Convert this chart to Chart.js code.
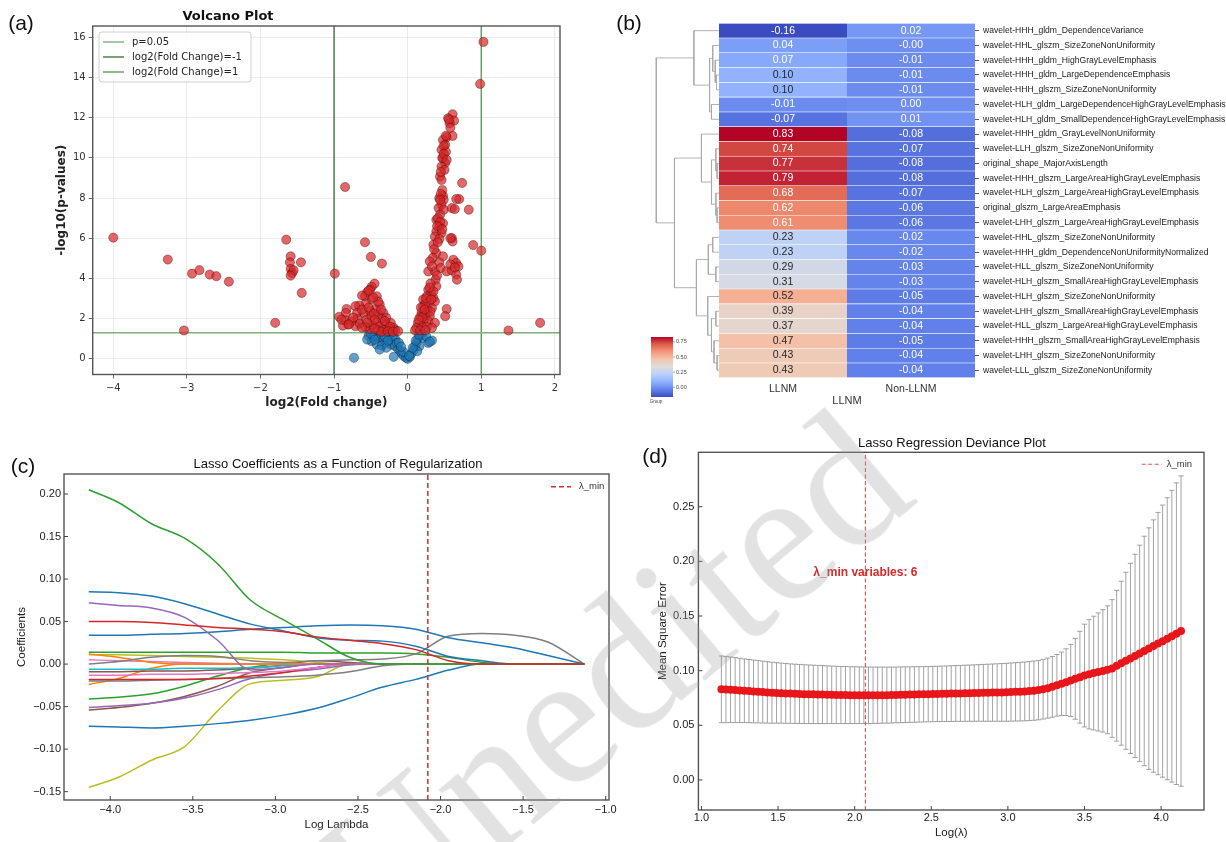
<!DOCTYPE html>
<html>
<head>
<meta charset="utf-8">
<script src="https://cdn.jsdelivr.net/npm/chart.js@4.4.1/dist/chart.umd.min.js"></script>
<style>
  html, body { margin: 0; padding: 0; background: #fff; }
  #page { position: relative; width: 1226px; height: 842px; overflow: hidden; background: #fff; }
  .box { position: absolute; }
  .lbl { position: absolute; transform: translate(-50%, -50%); white-space: nowrap; color: #111; }
  .panel { font-family: "Liberation Sans", Arial, sans-serif; font-size: 21px; }
  .ttl { font-family: "Liberation Sans", Arial, sans-serif; font-size: 13px; color: #111; }
  #mark { position: absolute; left: 612px; top: 675px; transform: translate(-50%, -50%) rotate(-40deg);
          font-family: "Liberation Serif", "DejaVu Serif", serif; font-size: 190px; color: rgba(160,160,160,0.3);
          white-space: nowrap; pointer-events: none; line-height: 1; }
</style>
</head>
<body>
<div id="page">
  <div class="box" style="left:0;top:0"><canvas id="volcano" width="600" height="420"></canvas></div>
  <div class="box" style="left:630px;top:0"><canvas id="dendro" width="89" height="420"></canvas></div>
  <div class="box" style="left:719px;top:0"><canvas id="heat" width="507" height="420"></canvas></div>
  <div class="box" style="left:0;top:420px"><canvas id="lassoPath" width="620" height="422"></canvas></div>
  <div class="box" style="left:620px;top:420px"><canvas id="deviance" width="606" height="422"></canvas></div>

  <div class="lbl panel" style="left:21px;top:23px">(a)</div>
  <div class="lbl panel" style="left:629px;top:23px">(b)</div>
  <div class="lbl panel" style="left:23px;top:466px">(c)</div>
  <div class="lbl panel" style="left:655px;top:456px">(d)</div>

  <div class="lbl" style="left:228px;top:15px;font:bold 13px 'DejaVu Sans', sans-serif">Volcano Plot</div>
  <div class="lbl ttl" style="left:338px;top:463px">Lasso Coefficients as a Function of Regularization</div>
  <div class="lbl ttl" style="left:952px;top:442px">Lasso Regression Deviance Plot</div>

  <div id="mark">Unedited</div>
</div>

<script>
// ---------- (a) volcano: [log2 fold change, -log10 p] ----------
const volcanoPoints = [
  [-4.00,6.03],[-3.26,4.94],[-2.93,4.24],[-2.83,4.41],[-2.69,4.19],[-2.60,4.11],[-2.43,3.84],[-3.04,1.41],
  [-1.80,1.79],[-1.65,5.93],[-1.59,5.10],[-1.60,4.80],[-1.59,4.47],[-1.57,4.27],[-1.55,4.41],[-1.59,4.14],
  [-1.45,4.80],[-1.44,3.28],[-0.99,4.24],[-0.85,8.55],[-0.58,5.80],[-0.50,5.07],[-0.35,4.74],
  [1.03,15.77],[0.985,13.68],[1.00,5.38],[1.37,1.41],[1.80,1.79],[0.74,8.75],[0.70,7.95],[0.66,7.95],
  [0.83,7.42],[0.89,5.66],
  [-0.45,3.74],[-0.49,3.58],[-0.51,3.44],[-0.55,3.31],[-0.58,3.11],[-0.62,3.15],[-0.42,3.11],[-0.49,2.95],
  [-0.57,2.75],[-0.66,2.65],[-0.71,2.62],[-0.38,2.70],[-0.44,2.48],[-0.51,2.37],[-0.60,2.28],[-0.69,2.28],
  [-0.83,2.48],[-0.84,2.28],[-0.93,2.09],[-0.85,1.92],[-0.76,1.87],[-0.68,1.99],[-0.81,1.71],[-0.71,1.62],
  [-0.65,1.75],[-0.56,1.95],[-0.49,2.12],[-0.40,2.20],[-0.33,2.28],[-0.35,1.99],[-0.29,2.04],[-0.42,1.82],
  [-0.48,1.66],[-0.38,1.62],[-0.29,1.71],[-0.23,1.79],[-0.19,1.54],[-0.26,1.49],[-0.33,1.46],[-0.52,1.49],
  [-0.40,1.42],[-0.17,1.42],[-0.58,1.59],[-0.62,2.45],[-0.53,2.55],[-0.46,2.25],[-0.36,2.45],[-0.31,1.88],
  [-0.24,1.60],[-0.45,1.95],[-0.55,1.80],[-0.62,1.55],[-0.36,1.35],[-0.27,1.37],[-0.45,1.50],[-0.20,1.35],
  [-0.13,1.38],[-0.88,1.65],[-0.74,2.05],[-0.40,2.85],[-0.47,3.05],[-0.53,3.40],[-0.90,1.95],[-0.80,1.71],
  [0.61,12.17],[0.55,11.97],[0.63,11.85],[0.57,11.72],[0.53,11.03],[0.61,11.09],[0.48,10.89],[0.51,10.65],
  [0.46,10.40],[0.52,10.30],[0.48,9.98],[0.51,9.74],[0.46,9.57],[0.50,9.40],[0.44,9.07],[0.46,8.90],
  [0.48,8.11],[0.43,8.00],[0.49,7.91],[0.46,7.67],[0.42,7.50],[0.49,7.42],[0.60,7.50],[0.44,7.17],
  [0.39,6.92],[0.48,6.75],[0.43,6.59],[0.39,6.34],[0.46,6.26],[0.37,6.09],[0.43,5.96],[0.60,6.01],
  [0.61,5.84],[0.35,5.68],[0.39,5.26],[0.34,5.02],[0.48,5.10],[0.43,4.80],[0.62,4.93],[0.66,4.77],
  [0.69,4.60],[0.30,4.85],[0.28,4.35],[0.37,4.35],[0.45,4.52],[0.53,4.35],[0.60,4.40],[0.66,4.19],
  [0.67,3.94],[0.38,3.94],[0.39,3.61],[0.28,3.44],[0.32,3.28],[0.26,3.11],[0.35,3.03],[0.21,2.95],
  [0.29,2.81],[0.37,2.86],[0.21,2.62],[0.27,2.45],[0.33,2.53],[0.19,2.32],[0.24,2.20],[0.30,2.12],
  [0.53,2.48],[0.51,2.12],[0.17,2.09],[0.22,1.92],[0.28,1.87],[0.37,1.79],[0.14,1.79],[0.19,1.62],
  [0.26,1.59],[0.12,1.54],[0.33,1.54],[0.10,1.42],[0.17,1.42],[0.24,1.42],
  [0.47,10.0],[0.49,10.6],[0.45,9.3],[0.47,8.4],[0.45,8.2],[0.44,7.9],[0.41,7.0],[0.44,6.8],[0.40,6.6],
  [0.47,6.45],[0.41,5.8],[0.36,5.45],[0.33,4.6],[0.40,4.15],[0.31,3.75],[0.35,3.35],[0.30,3.55],[0.24,2.75],
  [0.31,2.35],[0.25,3.0],[0.18,2.55],[0.23,2.45],[0.20,2.05],[0.15,1.95],[0.32,2.95],[0.64,7.45],[0.58,6.0],
  [0.58,4.7],[0.64,4.55],[0.56,11.9],[0.58,11.5],[0.52,11.1],[0.49,10.2],[0.53,9.9],
  [-0.53,1.16],[-0.47,1.09],[-0.49,0.88],[-0.40,1.04],[-0.42,0.71],[-0.33,0.96],[-0.35,0.66],[-0.29,0.79],
  [-0.24,0.96],[-0.22,0.71],[-0.17,0.99],[-0.17,0.63],[-0.13,0.50],[-0.10,0.38],[-0.08,0.26],[-0.05,0.13],
  [-0.02,0.05],[0.00,0.00],[-0.19,0.10],[-0.73,0.05],[-0.29,0.55],[-0.38,0.46],[-0.44,1.13],[-0.55,0.96],
  [-0.15,0.79],[0.03,0.10],[0.05,0.26],[0.08,0.43],[0.10,0.63],[0.12,0.79],[0.14,0.99],[0.17,1.16],
  [0.19,1.26],[0.21,1.04],[0.28,0.79],[0.33,0.91],[0.16,0.63],[0.25,1.13],[0.13,0.38],[-0.50,1.25],
  [-0.36,1.20],[-0.26,1.22],[-0.20,1.15],[-0.12,0.80],[-0.06,0.35],[0.02,0.15],[0.07,0.55],[0.11,0.90],
  [0.15,1.20],[-0.31,1.10],[-0.45,0.95],[-0.27,0.90],[-0.09,0.60],[0.30,0.85]
];
const pCut = 0.05;
const fcCuts = [-1, 1];
const volcanoXTicks = [-4, -3, -2, -1, 0, 1, 2];

// ---------- (b) heatmap ----------
const featureNames = [
  'wavelet-HHH_gldm_DependenceVariance',
  'wavelet-HHL_glszm_SizeZoneNonUniformity',
  'wavelet-HHH_gldm_HighGrayLevelEmphasis',
  'wavelet-HHH_gldm_LargeDependenceEmphasis',
  'wavelet-HHH_glszm_SizeZoneNonUniformity',
  'wavelet-HLH_gldm_LargeDependenceHighGrayLevelEmphasis',
  'wavelet-HLH_gldm_SmallDependenceHighGrayLevelEmphasis',
  'wavelet-HHH_gldm_GrayLevelNonUniformity',
  'wavelet-LLH_glszm_SizeZoneNonUniformity',
  'original_shape_MajorAxisLength',
  'wavelet-HHH_glszm_LargeAreaHighGrayLevelEmphasis',
  'wavelet-HLH_glszm_LargeAreaHighGrayLevelEmphasis',
  'original_glszm_LargeAreaEmphasis',
  'wavelet-LHH_glszm_LargeAreaHighGrayLevelEmphasis',
  'wavelet-HHL_glszm_SizeZoneNonUniformity',
  'wavelet-HHH_gldm_DependenceNonUniformityNormalized',
  'wavelet-HLL_glszm_SizeZoneNonUniformity',
  'wavelet-HLH_glszm_SmallAreaHighGrayLevelEmphasis',
  'wavelet-HLH_glszm_SizeZoneNonUniformity',
  'wavelet-LHH_glszm_SmallAreaHighGrayLevelEmphasis',
  'wavelet-HLL_glszm_LargeAreaHighGrayLevelEmphasis',
  'wavelet-HHH_glszm_SmallAreaHighGrayLevelEmphasis',
  'wavelet-LHH_glszm_SizeZoneNonUniformity',
  'wavelet-LLL_glszm_SizeZoneNonUniformity'
];
const groupNames = ['LLNM', 'Non-LLNM'];
const llnmValues = [-0.16, 0.04, 0.07, 0.10, 0.10, -0.01, -0.07, 0.83, 0.74, 0.77, 0.79, 0.68, 0.62, 0.61,
                    0.23, 0.23, 0.29, 0.31, 0.52, 0.39, 0.37, 0.47, 0.43, 0.43];
const nonLlnmValues = [0.02, -0, -0.01, -0.01, -0.01, 0.00, 0.01, -0.08, -0.07, -0.08, -0.08, -0.07, -0.06, -0.06,
                       -0.02, -0.02, -0.03, -0.03, -0.05, -0.04, -0.04, -0.05, -0.04, -0.04];
const colorLimits = [-0.16, 0.83];
const colorbarTicks = [0.00, 0.25, 0.50, 0.75];
// row clustering: [childA, childB, height]; ids >= 24 refer to earlier rows of this list
const dendroLinks = [
  [3, 4, 0.04], [2, 24, 0.06], [1, 25, 0.10], [5, 6, 0.12], [26, 27, 0.15], [0, 28, 0.40],
  [9, 10, 0.03], [8, 30, 0.05], [12, 13, 0.03], [11, 32, 0.05], [31, 33, 0.12], [7, 34, 0.28],
  [14, 15, 0.10], [16, 17, 0.05], [36, 37, 0.17], [19, 20, 0.05], [22, 23, 0.03], [21, 40, 0.08],
  [39, 41, 0.12], [18, 42, 0.18], [38, 43, 0.36], [35, 44, 0.71], [29, 45, 1.00]
];

// ---------- (c) lasso paths ----------
const logLambdaPath = [-4.13, -3.95, -3.75, -3.55, -3.35, -3.15, -2.95, -2.75, -2.55, -2.35, -2.15, -1.95, -1.75, -1.55, -1.35, -1.13];
const coefPaths = [
  [0.050, 0.050, 0.049, 0.046, 0.043, 0.041, 0.038, 0.032, 0.028, 0.024, 0.017, 0.004, 0, 0, 0, 0],
  [0.205, 0.190, 0.165, 0.148, 0.118, 0.075, 0.052, 0.030, 0.008, 0, 0, 0, 0, 0, 0, 0],
  [0.085, 0.084, 0.080, 0.071, 0.059, 0.047, 0.039, 0.031, 0.028, 0.027, 0.021, 0.009, 0.004, 0, 0, 0],
  [0.072, 0.069, 0.066, 0.055, 0.028, -0.007, -0.004, 0, 0, 0, 0, 0, 0, 0, 0, 0],
  [0.034, 0.034, 0.035, 0.036, 0.038, 0.041, 0.043, 0.045, 0.046, 0.045, 0.041, 0.031, 0.025, 0.019, 0.010, 0],
  [0.000, 0.003, 0.008, 0.010, 0.009, 0.004, 0.002, 0.004, 0.005, 0.006, 0.012, 0.033, 0.036, 0.034, 0.026, 0],
  [0.014, 0.014, 0.014, 0.014, 0.014, 0.014, 0.014, 0.013, 0.013, 0.013, 0.012, 0.008, 0.002, 0, 0, 0],
  [0.012, 0.008, 0.002, 0, 0, 0, 0, 0, 0, 0, 0, 0, 0, 0, 0, 0],
  [0.011, 0.011, 0.010, 0.009, 0.008, 0.007, 0.005, 0.002, 0, 0, 0, 0, 0, 0, 0, 0],
  [0.005, 0.004, 0.003, 0.002, 0.001, 0, 0, 0, 0, 0, 0, 0, 0, 0, 0, 0],
  [-0.006, -0.006, -0.006, -0.005, -0.005, -0.004, -0.002, 0, 0, 0, 0, 0, 0, 0, 0, 0],
  [-0.009, -0.009, -0.008, -0.008, -0.007, -0.005, -0.001, 0.004, 0.002, 0, 0, 0, 0, 0, 0, 0],
  [-0.013, -0.013, -0.012, -0.012, -0.011, -0.010, -0.008, -0.004, 0, 0, 0, 0, 0, 0, 0, 0],
  [-0.018, -0.018, -0.018, -0.018, -0.017, -0.014, -0.010, -0.004, 0, 0, 0, 0, 0, 0, 0, 0],
  [-0.020, -0.020, -0.019, -0.018, -0.017, -0.016, -0.015, -0.013, -0.009, -0.002, 0, 0, 0, 0, 0, 0],
  [-0.024, -0.017, -0.005, 0, 0, 0, 0, 0, 0, 0, 0, 0, 0, 0, 0, 0],
  [-0.041, -0.039, -0.035, -0.026, -0.014, -0.004, 0, 0, 0, 0, 0, 0, 0, 0, 0, 0],
  [-0.051, -0.049, -0.046, -0.040, -0.030, -0.017, -0.010, -0.006, -0.001, 0, 0, 0, 0, 0, 0, 0],
  [-0.054, -0.051, -0.046, -0.038, -0.026, -0.010, -0.004, 0, 0, 0, 0, 0, 0, 0, 0, 0],
  [-0.073, -0.074, -0.075, -0.073, -0.070, -0.066, -0.060, -0.052, -0.040, -0.027, -0.018, -0.007, 0, 0, 0, 0],
  [-0.145, -0.133, -0.113, -0.097, -0.055, -0.023, -0.019, -0.015, 0, 0, 0, 0, 0, 0, 0, 0]
];
const coefColors = ['#d62728', '#2ca02c', '#1f77b4', '#9467bd', '#1f77b4', '#7f7f7f', '#2ca02c', '#ff7f0e',
  '#bcbd22', '#e377c2', '#17becf', '#8c564b', '#e377c2', '#d62728', '#7f7f7f', '#ff7f0e', '#2ca02c',
  '#9467bd', '#8c564b', '#1f77b4', '#bcbd22'];
const lambdaMinPath = -2.077;

// ---------- (d) cross-validation deviance ----------
const logLambdaCv = [
  1.13, 1.16, 1.19, 1.22, 1.25, 1.28, 1.31, 1.34, 1.37, 1.40, 1.43, 1.46, 1.49, 1.52, 1.55, 1.58, 1.61, 1.64,
  1.67, 1.70, 1.73, 1.76, 1.79, 1.82, 1.85, 1.88, 1.91, 1.94, 1.97, 2.00, 2.03, 2.06, 2.09, 2.12, 2.15, 2.18,
  2.21, 2.24, 2.27, 2.30, 2.33, 2.36, 2.39, 2.42, 2.45, 2.48, 2.51, 2.54, 2.57, 2.60, 2.63, 2.66, 2.69, 2.72,
  2.75, 2.78, 2.81, 2.84, 2.87, 2.90, 2.93, 2.96, 2.99, 3.02, 3.05, 3.08, 3.11, 3.14, 3.17, 3.20, 3.23, 3.26,
  3.29, 3.32, 3.35, 3.38, 3.41, 3.44, 3.47, 3.50, 3.53, 3.56, 3.59, 3.62, 3.65, 3.68, 3.71, 3.74, 3.77, 3.80,
  3.83, 3.86, 3.89, 3.92, 3.95, 3.98, 4.01, 4.04, 4.07, 4.10, 4.13
];
const mseMean = [
  0.0829, 0.0827, 0.0825, 0.0822, 0.0819, 0.0816, 0.0813, 0.0810, 0.0807, 0.0804, 0.0801, 0.0798, 0.0796, 0.0794,
  0.0792, 0.0790, 0.0788, 0.0787, 0.0785, 0.0784, 0.0783, 0.0782, 0.0781, 0.0780, 0.0779, 0.0778, 0.0777, 0.0777,
  0.0776, 0.0776, 0.0775, 0.0775, 0.0775, 0.0775, 0.0775, 0.0776, 0.0776, 0.0777, 0.0778, 0.0779, 0.0780, 0.0781,
  0.0782, 0.0783, 0.0784, 0.0785, 0.0786, 0.0787, 0.0788, 0.0789, 0.0790, 0.0791, 0.0792, 0.0793, 0.0794, 0.0795,
  0.0796, 0.0797, 0.0798, 0.0799, 0.0800, 0.0801, 0.0802, 0.0804, 0.0806, 0.0808, 0.0810, 0.0813, 0.0817, 0.0822,
  0.0830, 0.0840, 0.0852, 0.0866, 0.0880, 0.0895, 0.0910, 0.0925, 0.0940, 0.0955, 0.0967, 0.0978, 0.0988, 0.0998,
  0.1008, 0.1020, 0.1045, 0.1068, 0.1090, 0.1112, 0.1135, 0.1158, 0.1180, 0.1202, 0.1225, 0.1248, 0.1270, 0.1292,
  0.1315, 0.1338, 0.1362
];
const mseErr = [
  0.0305, 0.0303, 0.0300, 0.0297, 0.0294, 0.0291, 0.0289, 0.0287, 0.0285, 0.0283, 0.0281, 0.0279, 0.0277, 0.0275,
  0.0274, 0.0272, 0.0271, 0.0270, 0.0269, 0.0268, 0.0267, 0.0266, 0.0265, 0.0264, 0.0263, 0.0262, 0.0261, 0.0261,
  0.0260, 0.0260, 0.0259, 0.0259, 0.0258, 0.0258, 0.0257, 0.0257, 0.0256, 0.0256, 0.0255, 0.0255, 0.0255, 0.0254,
  0.0254, 0.0254, 0.0253, 0.0253, 0.0253, 0.0253, 0.0254, 0.0254, 0.0255, 0.0255, 0.0256, 0.0257, 0.0257, 0.0258,
  0.0259, 0.0260, 0.0261, 0.0262, 0.0263, 0.0264, 0.0265, 0.0266, 0.0267, 0.0268, 0.0269, 0.0270, 0.0271, 0.0272,
  0.0273, 0.0275, 0.0278, 0.0282, 0.0290, 0.0305, 0.0330, 0.0370, 0.0420, 0.0470, 0.0500, 0.0520, 0.0540, 0.0560,
  0.0585, 0.0630, 0.0690, 0.0750, 0.0810, 0.0870, 0.0930, 0.0990, 0.1050, 0.1105, 0.1155, 0.1200, 0.1245, 0.1290,
  0.1335, 0.1380, 0.1420
];
const lambdaMinCv = 2.07;
const lambdaMinVars = 6;

// ---------- helpers ----------
Chart.defaults.animation = false;
Chart.defaults.responsive = false;
Chart.defaults.plugins.legend.display = false;
Chart.defaults.plugins.tooltip.enabled = false;
Chart.defaults.color = '#222';
Chart.defaults.font.family = '"Liberation Sans", Arial, sans-serif';

const minus = s => String(s).replace('-', '\u2212');
const ARIAL = '"Liberation Sans", Arial, sans-serif';
const DEJAVU = '"DejaVu Sans", sans-serif';

const coolwarm = [[59,76,192],[98,130,234],[141,176,254],[184,208,249],[221,221,221],
                  [245,196,172],[244,154,123],[222,96,77],[180,4,38]];
function cmap(v) {
  let t = (v - colorLimits[0]) / (colorLimits[1] - colorLimits[0]);
  t = Math.min(1, Math.max(0, t));
  const s = t * (coolwarm.length - 1);
  const i = Math.min(coolwarm.length - 2, Math.floor(s));
  const f = s - i;
  return coolwarm[i].map((c, k) => Math.round(c + (coolwarm[i + 1][k] - c) * f));
}
function lum(rgb) {
  const c = rgb.map(v => { v /= 255; return v <= 0.03928 ? v / 12.92 : Math.pow((v + 0.055) / 1.055, 2.4); });
  return 0.2126 * c[0] + 0.7152 * c[1] + 0.0722 * c[2];
}

// frame around the plotting area
const framePlugin = {
  id: 'frame',
  afterDraw(chart, args, o) {
    const { ctx, chartArea: a } = chart;
    ctx.save();
    ctx.strokeStyle = o.color || '#555';
    ctx.lineWidth = o.width || 1.2;
    ctx.strokeRect(a.left, a.top, a.right - a.left, a.bottom - a.top);
    ctx.restore();
  }
};

// small ticks pointing into the plot (bottom and left)
const inwardTicks = {
  id: 'inwardTicks',
  afterDraw(chart, args, o) {
    const { ctx, chartArea: a, scales: { x, y } } = chart;
    ctx.save();
    ctx.strokeStyle = '#444';
    ctx.lineWidth = 1;
    ctx.beginPath();
    x.ticks.forEach(t => { const p = x.getPixelForValue(t.value); ctx.moveTo(p, a.bottom); ctx.lineTo(p, a.bottom - 4); });
    y.ticks.forEach(t => { const p = y.getPixelForValue(t.value); ctx.moveTo(a.left, p); ctx.lineTo(a.left + 4, p); });
    ctx.stroke();
    ctx.restore();
  }
};

// legend made from datasets flagged inLegend
const lineLegend = {
  id: 'lineLegend',
  afterDraw(chart, args, o) {
    const ctx = chart.ctx;
    const items = chart.data.datasets.filter(d => d.inLegend);
    ctx.save();
    if (o.box) {
      const [bx, by, bw, bh] = o.box;
      ctx.beginPath();
      if (ctx.roundRect) ctx.roundRect(bx, by, bw, bh, 3); else ctx.rect(bx, by, bw, bh);
      ctx.fillStyle = 'rgba(255,255,255,0.85)';
      ctx.fill();
      ctx.strokeStyle = '#d0d0d0';
      ctx.lineWidth = 1;
      ctx.stroke();
    }
    items.forEach((d, i) => {
      const y = o.y + i * (o.rowH || 0);
      ctx.strokeStyle = d.borderColor;
      ctx.lineWidth = d.borderWidth;
      ctx.setLineDash(d.borderDash || []);
      ctx.beginPath();
      ctx.moveTo(o.x, y);
      ctx.lineTo(o.x + o.len, y);
      ctx.stroke();
      ctx.setLineDash([]);
      ctx.fillStyle = o.textColor || '#222';
      ctx.font = o.font;
      ctx.textBaseline = 'middle';
      ctx.textAlign = 'left';
      ctx.fillText(d.label, o.x + o.len + o.gap, y);
    });
    ctx.restore();
  }
};

// ---------- (a) ----------
const pLine = -Math.log10(pCut);
const vxMin = -4.28, vxMax = 2.07, vyMin = -0.78, vyMax = 16.56;
const toXY = p => ({ x: p[0], y: p[1] });

new Chart(document.getElementById('volcano'), {
  type: 'scatter',
  data: {
    datasets: [
      { label: 'significant', data: volcanoPoints.filter(p => p[1] > pLine).map(toXY),
        backgroundColor: 'rgba(214,39,40,0.7)', borderColor: 'rgba(70,0,0,0.55)', borderWidth: 0.7,
        pointRadius: 4.6, order: 0 },
      { label: 'not significant', data: volcanoPoints.filter(p => p[1] <= pLine).map(toXY),
        backgroundColor: 'rgba(31,119,180,0.7)', borderColor: 'rgba(0,25,60,0.55)', borderWidth: 0.7,
        pointRadius: 4.6, order: 1 },
      { label: 'p=0.05', inLegend: true, data: [{ x: vxMin, y: pLine }, { x: vxMax, y: pLine }],
        showLine: true, pointRadius: 0, borderColor: '#7faf7a', borderWidth: 1.4, order: 2 },
      { label: 'log2(Fold Change)=-1', inLegend: true, data: [{ x: fcCuts[0], y: vyMin }, { x: fcCuts[0], y: vyMax }],
        showLine: true, pointRadius: 0, borderColor: '#3c7a3c', borderWidth: 1.4, order: 2 },
      { label: 'log2(Fold Change)=1', inLegend: true, data: [{ x: fcCuts[1], y: vyMin }, { x: fcCuts[1], y: vyMax }],
        showLine: true, pointRadius: 0, borderColor: '#5e9e5e', borderWidth: 1.4, order: 2 }
    ]
  },
  options: {
    layout: { padding: { top: 26, right: 40, left: 0, bottom: 0 } },
    scales: {
      x: {
        type: 'linear', min: vxMin, max: vxMax,
        afterBuildTicks: s => { s.ticks = volcanoXTicks.map(v => ({ value: v })); },
        ticks: { callback: v => minus(v), padding: 3.5, color: '#333', font: { family: DEJAVU, size: 10 } },
        grid: { color: '#e6e6e6', lineWidth: 0.8, tickColor: '#444', tickLength: 4 },
        border: { display: false },
        title: { display: true, text: 'log2(Fold change)', color: '#222',
                 font: { family: DEJAVU, size: 12, weight: 'bold' }, padding: { top: 0, bottom: 9.8 } },
        afterFit: s => { s.height = 45.5; }
      },
      y: {
        type: 'linear', min: vyMin, max: vyMax,
        ticks: { stepSize: 2, includeBounds: false, callback: v => minus(v), padding: 3, color: '#333',
                 font: { family: DEJAVU, size: 10 } },
        grid: { color: '#e6e6e6', lineWidth: 0.8, tickColor: '#444', tickLength: 4 },
        border: { display: false },
        title: { display: true, text: '-log10(p-values)', color: '#222',
                 font: { family: DEJAVU, size: 12, weight: 'bold' }, padding: { top: 54.8, bottom: 0 } },
        afterFit: s => { s.width = 92.7; }
      }
    },
    plugins: {
      frame: { color: '#555', width: 1.4 },
      lineLegend: { box: [99, 32, 152, 50], x: 103, y: 42, rowH: 15, len: 21, gap: 8,
                    font: '10px "DejaVu Sans", sans-serif', textColor: '#222' }
    }
  },
  plugins: [framePlugin, lineLegend]
});

// ---------- (b) dendrogram + colorbar ----------
const nodeY = featureNames.map((_, i) => i);
const nodeH = featureNames.map(() => 0);
const dendroPts = [];
dendroLinks.forEach(([a, b, h], k) => {
  dendroPts.push({ x: nodeH[a], y: nodeY[a] }, { x: h, y: nodeY[a] }, { x: h, y: nodeY[b] },
                 { x: nodeH[b], y: nodeY[b] }, { x: h, y: null });
  nodeY[featureNames.length + k] = (nodeY[a] + nodeY[b]) / 2;
  nodeH[featureNames.length + k] = h;
});

const colorbarPlugin = {
  id: 'colorbar',
  afterDraw(chart, args, o) {
    const ctx = chart.ctx;
    const { x, y, w, h } = o;
    const g = ctx.createLinearGradient(0, y + h, 0, y);
    coolwarm.forEach((c, i) => g.addColorStop(i / (coolwarm.length - 1), 'rgb(' + c.join(',') + ')'));
    ctx.save();
    ctx.fillStyle = g;
    ctx.fillRect(x, y, w, h);
    ctx.font = '5.5px ' + ARIAL;
    ctx.fillStyle = '#444';
    ctx.textBaseline = 'middle';
    ctx.strokeStyle = '#666';
    ctx.lineWidth = 0.6;
    colorbarTicks.forEach(t => {
      const ty = y + h - (t - colorLimits[0]) / (colorLimits[1] - colorLimits[0]) * h;
      ctx.beginPath(); ctx.moveTo(x + w, ty); ctx.lineTo(x + w + 2, ty); ctx.stroke();
      ctx.fillText(t.toFixed(2), x + w + 3, ty);
    });
    ctx.font = '4.5px ' + ARIAL;
    ctx.textAlign = 'center';
    ctx.fillText('Group', x + 5, y + h + 5);
    ctx.restore();
  }
};

new Chart(document.getElementById('dendro'), {
  type: 'scatter',
  data: {
    datasets: [{ data: dendroPts, showLine: true, spanGaps: false, pointRadius: 0,
                 borderColor: '#a9a9a9', borderWidth: 0.9 }]
  },
  options: {
    layout: { padding: { top: 23.3, bottom: 42.3, left: 20, right: 0 } },
    scales: {
      x: { type: 'linear', display: false, min: 0, max: 1.1, reverse: true },
      y: { type: 'linear', display: false, min: -0.5, max: featureNames.length - 0.5, reverse: true }
    },
    plugins: { colorbar: { x: 21, y: 337, w: 22, h: 60 } }
  },
  plugins: [colorbarPlugin]
});

// ---------- (b) heatmap ----------
const cellText = {
  id: 'cellText',
  afterDatasetsDraw(chart) {
    const ctx = chart.ctx;
    ctx.save();
    ctx.font = '10.5px ' + ARIAL;
    ctx.textAlign = 'center';
    ctx.textBaseline = 'middle';
    chart.data.datasets.forEach((ds, di) => {
      chart.getDatasetMeta(di).data.forEach((el, i) => {
        const v = ds.cellValues[i];
        ctx.fillStyle = lum(cmap(v)) > 0.42 ? '#262626' : '#ffffff';
        const txt = (v < 0 || Object.is(v, -0) ? '-' : '') + Math.abs(v).toFixed(2);
        ctx.fillText(txt, (el.x + el.base) / 2, el.y);
      });
    });
    ctx.restore();
  }
};

const heatValues = [llnmValues, nonLlnmValues];
new Chart(document.getElementById('heat'), {
  type: 'bar',
  data: {
    labels: featureNames,
    datasets: heatValues.map((vals, gi) => ({
      label: groupNames[gi],
      data: vals.map(() => [gi, gi + 1]),
      cellValues: vals,
      backgroundColor: vals.map(v => 'rgb(' + cmap(v).join(',') + ')'),
      borderColor: 'rgba(255,255,255,0.55)',
      borderWidth: { top: 0.6, bottom: 0.6, left: 0, right: 0 },
      borderSkipped: false,
      barPercentage: 1, categoryPercentage: 1, grouped: false
    }))
  },
  options: {
    indexAxis: 'y',
    layout: { padding: { top: 23.3, left: 0, right: 0, bottom: 0 } },
    scales: {
      x: {
        type: 'linear', min: 0, max: groupNames.length,
        afterBuildTicks: s => { s.ticks = groupNames.map((g, i) => ({ value: i + 0.5 })); },
        ticks: { callback: (v, i) => groupNames[i], padding: 5, color: '#333', font: { size: 10.5 } },
        grid: { display: false, drawTicks: false },
        border: { display: false },
        title: { display: true, text: 'LLNM', color: '#333', font: { size: 11 }, padding: { top: 0, bottom: 12 } },
        afterFit: s => { s.height = 42.3; }
      },
      y: {
        position: 'right',
        ticks: { autoSkip: false, padding: 4, color: '#222', font: { size: 8.6 } },
        grid: { drawOnChartArea: false, offset: false, tickLength: 4, tickColor: '#333', lineWidth: 0.8 },
        border: { display: false },
        afterFit: s => { s.width = 251; }
      }
    }
  },
  plugins: [cellText]
});

// ---------- (c) ----------
const cxMin = -4.28, cxMax = -0.98, cyMin = -0.1598, cyMax = 0.2235;
const pathSets = coefPaths.map((vals, k) => ({
  label: 'coef ' + (k + 1),
  data: vals.map((v, i) => ({ x: logLambdaPath[i], y: v })),
  showLine: true, pointRadius: 0, borderColor: coefColors[k], borderWidth: 1.5,
  cubicInterpolationMode: 'monotone', order: k + 1
}));
pathSets.push({
  label: '\u03bb_min', inLegend: true,
  data: [{ x: lambdaMinPath, y: cyMin }, { x: lambdaMinPath, y: cyMax }],
  showLine: true, pointRadius: 0, borderColor: '#d0312d', borderWidth: 1.5, borderDash: [5, 3], order: -1
});

new Chart(document.getElementById('lassoPath'), {
  type: 'scatter',
  data: { datasets: pathSets },
  options: {
    layout: { padding: { top: 54, right: 7, left: 0, bottom: 0 } },
    scales: {
      x: {
        type: 'linear', min: cxMin, max: cxMax,
        ticks: { stepSize: 0.5, includeBounds: false, callback: v => minus(v.toFixed(1)), padding: 3.4,
                 color: '#222', font: { size: 11 } },
        grid: { display: false, drawTicks: false },
        border: { display: false },
        title: { display: true, text: 'Log Lambda', color: '#222', font: { size: 11.5 }, padding: { top: 0, bottom: 10 } },
        afterFit: s => { s.height = 42; }
      },
      y: {
        type: 'linear', min: cyMin, max: cyMax,
        ticks: { stepSize: 0.05, includeBounds: false, callback: v => minus(v.toFixed(2)), padding: 3,
                 color: '#222', font: { size: 11 } },
        grid: { display: false, drawTicks: false },
        border: { display: false },
        title: { display: true, text: 'Coefficients', color: '#222', font: { size: 11.5 }, padding: { top: 15, bottom: 0 } },
        afterFit: s => { s.width = 64; }
      }
    },
    plugins: {
      frame: { color: '#555', width: 1.4 },
      lineLegend: { x: 551, y: 66.7, len: 20, gap: 8, font: '9.5px ' + ARIAL, textColor: '#333' }
    }
  },
  plugins: [framePlugin, inwardTicks, lineLegend]
});

// ---------- (d) ----------
const dxMin = 0.98, dxMax = 4.28, dyMin = -0.0275, dyMax = 0.2998;
const errSegs = [];
const capPts = [];
logLambdaCv.forEach((x, i) => {
  const lo = mseMean[i] - mseErr[i], hi = mseMean[i] + mseErr[i];
  errSegs.push({ x, y: lo }, { x, y: hi }, { x, y: null });
  capPts.push({ x, y: lo }, { x, y: hi });
});

const noteOnLine = {
  id: 'noteOnLine',
  afterDraw(chart, args, o) {
    const { ctx, scales: { x, y } } = chart;
    ctx.save();
    ctx.font = 'bold 12px ' + ARIAL;
    ctx.fillStyle = '#d42a2a';
    ctx.textAlign = 'center';
    ctx.textBaseline = 'middle';
    ctx.fillText(o.text, x.getPixelForValue(o.x), y.getPixelForValue(o.y));
    ctx.restore();
  }
};

new Chart(document.getElementById('deviance'), {
  type: 'scatter',
  data: {
    datasets: [
      { label: 'mean', data: logLambdaCv.map((x, i) => ({ x, y: mseMean[i] })), showLine: true,
        borderColor: '#e8161b', backgroundColor: '#e8161b', borderWidth: 2, pointRadius: 3, order: 0 },
      { label: '\u03bb_min', inLegend: true,
        data: [{ x: lambdaMinCv, y: dyMin }, { x: lambdaMinCv, y: dyMax }], showLine: true, pointRadius: 0,
        borderColor: '#d9534f', borderWidth: 1.1, borderDash: [4, 2.5], order: 1 },
      { label: 'se', data: errSegs, showLine: true, spanGaps: false, pointRadius: 0,
        borderColor: '#8c8c8c', borderWidth: 0.8, order: 3 },
      { label: 'caps', data: capPts, pointStyle: 'line', pointRadius: 2.6, borderColor: '#8c8c8c',
        borderWidth: 0.8, order: 3 }
    ]
  },
  options: {
    layout: { padding: { top: 32.3, right: 22, left: 0, bottom: 0 } },
    scales: {
      x: {
        type: 'linear', min: dxMin, max: dxMax,
        ticks: { stepSize: 0.5, includeBounds: false, callback: v => v.toFixed(1), padding: 1.5,
                 color: '#222', font: { size: 11 } },
        grid: { display: false, drawTicks: false },
        border: { display: false },
        title: { display: true, text: 'Log(\u03bb)', color: '#222', font: { size: 11.5 }, padding: { top: 0, bottom: 2 } },
        afterFit: s => { s.height = 32; }
      },
      y: {
        type: 'linear', min: dyMin, max: dyMax,
        ticks: { stepSize: 0.05, includeBounds: false, callback: v => minus(v.toFixed(2)), padding: 4,
                 color: '#222', font: { size: 11 } },
        grid: { display: false, drawTicks: false },
        border: { display: false },
        title: { display: true, text: 'Mean Square Error', color: '#222', font: { size: 11.5 }, padding: { top: 36, bottom: 0 } },
        afterFit: s => { s.width = 78.4; }
      }
    },
    plugins: {
      frame: { color: '#555', width: 1.4 },
      lineLegend: { x: 521.7, y: 44.3, len: 20, gap: 5, font: '9.5px ' + ARIAL, textColor: '#333' },
      noteOnLine: { text: '\u03bb_min variables: ' + lambdaMinVars, x: lambdaMinCv, y: 0.19 }
    }
  },
  plugins: [framePlugin, inwardTicks, lineLegend, noteOnLine]
});
</script>
</body>
</html>
